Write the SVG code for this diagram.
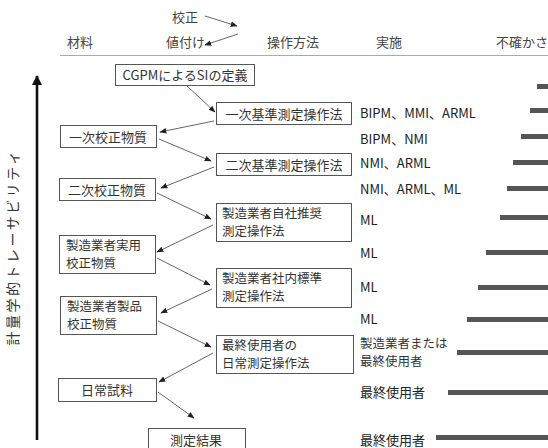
<svg xmlns="http://www.w3.org/2000/svg" width="548" height="448" viewBox="0 0 548 448">
<style>
text{font-family:"Noto Sans CJK JP","Noto Sans",sans-serif;fill:#333;}
.h{font-size:13px;fill:#444;}
.b{font-size:13px;}
.m{font-size:12.5px;}
.c{text-anchor:middle;}
.box{fill:#fff;stroke:#555;stroke-width:1;}
.lab{font-size:13px;fill:#222;}
.cn{stroke:#555;stroke-width:0.9;fill:none;marker-end:url(#ah);}
.bar{fill:#555;}
</style>
<defs>
<marker id="ah" viewBox="0 0 10 10" refX="9" refY="5" markerWidth="7" markerHeight="7" markerUnits="userSpaceOnUse" orient="auto">
<path d="M0,1 L10,5 L0,9 Z" fill="#222"/>
</marker>
<marker id="big" viewBox="0 0 10 10" refX="9" refY="5" markerWidth="4" markerHeight="4" orient="auto">
<path d="M0,0 L10,5 L0,10 Z" fill="#111"/>
</marker>
</defs>
<rect width="548" height="448" fill="#fff"/>

<g id="header">
<text class="h" x="172" y="22">校正</text>
<text class="h" x="166" y="47">値付け</text>
<text class="h" x="67" y="47">材料</text>
<text class="h" x="267" y="47">操作方法</text>
<text class="h" x="376" y="47">実施</text>
<text class="h" x="496" y="47">不確かさ</text>
<line x1="60" y1="55.5" x2="548" y2="55.5" stroke="#aaa" stroke-width="1.2"/>
</g>

<g id="axis">
<line x1="37" y1="440" x2="37" y2="76" stroke="#111" stroke-width="2.6" marker-end="url(#big)"/>
<text font-size="14" fill="#333" transform="translate(17.5,247) rotate(-90)" text-anchor="middle" letter-spacing="2.5">計量学的トレーサビリティ</text>
</g>

<g id="n1"><rect class="box" x="115.5" y="64.5" width="139" height="21"/><text class="b c" x="185" y="80">CGPMによるSIの定義</text></g>
<g id="n2"><rect class="box" x="216.5" y="102.5" width="135" height="22"/><text class="b c" x="284" y="118.5">一次基準測定操作法</text></g>
<g id="n3"><rect class="box" x="60.5" y="125.5" width="96" height="22"/><text class="b c" x="108" y="141.5">一次校正物質</text></g>
<g id="n4"><rect class="box" x="216.5" y="153.5" width="135" height="22"/><text class="b c" x="284" y="169.5">二次基準測定操作法</text></g>
<g id="n5"><rect class="box" x="59.5" y="178.5" width="96" height="22"/><text class="b c" x="107" y="194.5">二次校正物質</text></g>
<g id="n6"><rect class="box" x="216.5" y="203.5" width="135" height="38"/><text class="m" x="222" y="218">製造業者自社推奨</text><text class="m" x="222" y="236">測定操作法</text></g>
<g id="n7"><rect class="box" x="59.5" y="235.5" width="96" height="38"/><text class="m" x="66" y="250">製造業者実用</text><text class="m" x="66" y="268">校正物質</text></g>
<g id="n8"><rect class="box" x="216.5" y="268.5" width="135" height="39"/><text class="m" x="222" y="283">製造業者社内標準</text><text class="m" x="222" y="301">測定操作法</text></g>
<g id="n9"><rect class="box" x="60.5" y="296.5" width="96" height="38"/><text class="m" x="67" y="311">製造業者製品</text><text class="m" x="67" y="329">校正物質</text></g>
<g id="n10"><rect class="box" x="216.5" y="335.5" width="137" height="38"/><text class="m" x="222" y="350">最終使用者の</text><text class="m" x="222" y="368">日常測定操作法</text></g>
<g id="n11"><rect class="box" x="58.5" y="378.5" width="98" height="23"/><text class="b c" x="107" y="395">日常試料</text></g>
<g id="n12"><rect class="box" x="148.5" y="428.5" width="97" height="24"/><text class="b c" x="196" y="445">測定結果</text></g>

<g id="connectors">
<line class="cn" x1="205" y1="16" x2="237" y2="26"/>
<line class="cn" x1="238" y1="34" x2="205" y2="45"/>
<line class="cn" x1="187" y1="86" x2="215" y2="112"/>
<line class="cn" x1="214" y1="121" x2="160" y2="132"/>
<line class="cn" x1="159" y1="139" x2="211" y2="161"/>
<line class="cn" x1="214" y1="167" x2="161" y2="188"/>
<line class="cn" x1="157" y1="193" x2="211" y2="219"/>
<line class="cn" x1="213" y1="225" x2="157" y2="252"/>
<line class="cn" x1="157" y1="258" x2="210" y2="285"/>
<line class="cn" x1="212" y1="289" x2="161" y2="313"/>
<line class="cn" x1="158" y1="321" x2="211" y2="347"/>
<line class="cn" x1="213" y1="353" x2="159" y2="382"/>
<line class="cn" x1="158" y1="392" x2="194" y2="418"/>
</g>

<g id="labels">
<text class="lab" x="360" y="118">BIPM、MMI、ARML</text>
<text class="lab" x="360" y="144">BIPM、NMI</text>
<text class="lab" x="360" y="168">NMI、ARML</text>
<text class="lab" x="360" y="194">NMI、ARML、ML</text>
<text class="lab" x="360" y="225">ML</text>
<text class="lab" x="360" y="258">ML</text>
<text class="lab" x="360" y="292">ML</text>
<text class="lab" x="360" y="324">ML</text>
<text class="m" fill="#222" x="360" y="348">製造業者または</text>
<text class="m" fill="#222" x="360" y="366">最終使用者</text>
<text class="lab" x="360" y="397">最終使用者</text>
<text class="lab" x="360" y="445">最終使用者</text>
</g>

<g id="bars">
<rect class="bar" x="537" y="84" width="11" height="5"/>
<rect class="bar" x="530" y="108" width="18" height="5"/>
<rect class="bar" x="521" y="134" width="27" height="5"/>
<rect class="bar" x="513" y="160" width="35" height="5"/>
<rect class="bar" x="507" y="186" width="41" height="5"/>
<rect class="bar" x="500" y="215" width="48" height="5"/>
<rect class="bar" x="486" y="250" width="62" height="5"/>
<rect class="bar" x="478" y="285" width="70" height="5"/>
<rect class="bar" x="467" y="317" width="81" height="5"/>
<rect class="bar" x="457" y="350" width="91" height="5"/>
<rect class="bar" x="448" y="390" width="100" height="5"/>
<rect class="bar" x="436" y="435" width="112" height="5"/>
</g>
</svg>
